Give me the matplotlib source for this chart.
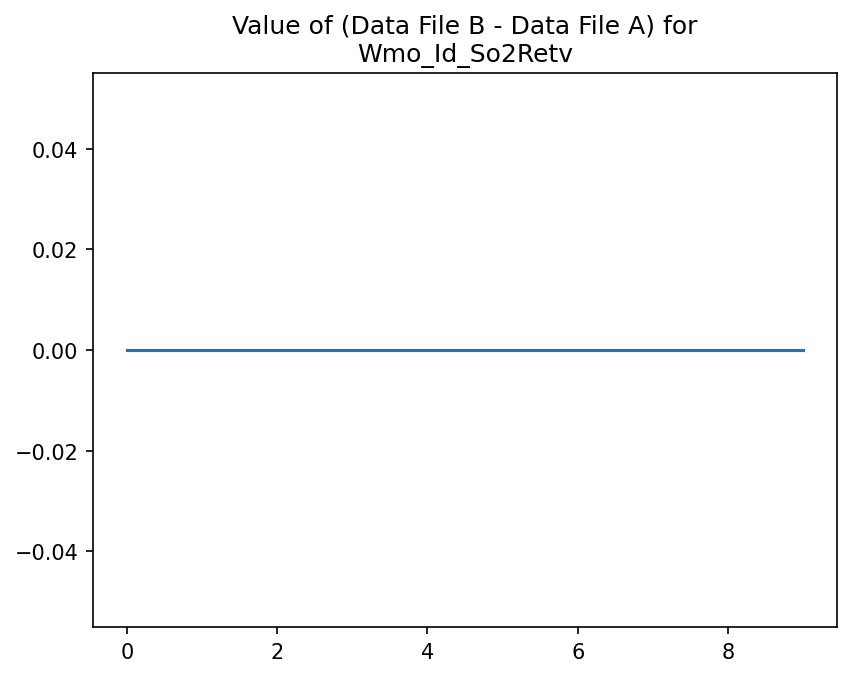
import numpy as np
import matplotlib.pyplot as plt

# Difference values (all zero)
index = [0, 1, 2, 3, 4, 5, 6, 7, 8, 9]
diff_values = [0, 0, 0, 0, 0, 0, 0, 0, 0, 0]
title_text = "Value of (Data File B - Data File A) for\nWmo_Id_So2Retv"

fig = plt.figure(figsize=(852 / 150, 678 / 150), dpi=150)
ax = fig.add_axes([93 / 852, 1 - 628 / 678, (837 - 93) / 852, (628 - 74) / 678])

ax.plot(index, diff_values)
ax.set_title(title_text)

fig.savefig("out.png", dpi=150)
